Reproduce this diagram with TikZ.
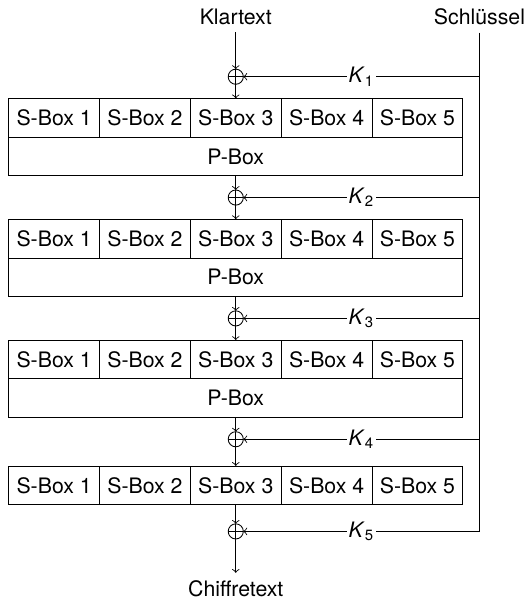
\documentclass[tikz,border=0pt]{standalone}
\usepackage{fontspec}
\setmainfont{TeX Gyre Heros}
\usetikzlibrary{positioning,calc}
\tikzset{
  sbox/.style={draw, minimum width=1.5cm, minimum height=0.64cm, inner sep=0pt, outer sep=0pt},
  pbox/.style={sbox, minimum width=7.5cm},
  % XOR-Knoten
  xor/.style={draw, circle, minimum size=0.25cm, inner sep=0pt, outer sep=0pt,
    path picture={\draw (path picture bounding box.north) -- (path picture bounding box.south)
      (path picture bounding box.west) -- (path picture bounding box.east);}},
  flow/.style={draw, ->},
  klbl/.style={fill=white, inner sep=1pt}
}
\begin{document}
\begin{tikzpicture}
  \useasboundingbox (0,0) rectangle (8.70,-9.91);
  \node (klar) at (3.894,-0.281) {Klartext};
  \node (key) at (7.92,-0.281) {Schlüssel};
  \node[xor] (x1) at (3.894,-1.267) {};
  \draw[flow] (klar) -- (x1);
  % volle Runden: S-Boxen, P-Box, Schluesseladdition
  \foreach \r [count=\n from 2] in {1,2,3} {
    \node[sbox, below=0.233cm of x\r] (s\r3) {S-Box 3};
    \node[sbox, left=0pt of s\r3] (s\r2) {S-Box 2};
    \node[sbox, left=0pt of s\r2] (s\r1) {S-Box 1};
    \node[sbox, right=0pt of s\r3] (s\r4) {S-Box 4};
    \node[sbox, right=0pt of s\r4] (s\r5) {S-Box 5};
    \node[pbox, below=0pt of s\r3] (p\r) {P-Box};
    \node[xor, below=0.233cm of p\r] (x\n) {};
    \draw[flow] (x\r) -- (s\r3);
    \draw[flow] (p\r) -- (x\n);
  }
  % letzte Runde ohne P-Box
  \node[sbox, below=0.316cm of x4] (s43) {S-Box 3};
  \node[sbox, left=0pt of s43] (s42) {S-Box 2};
  \node[sbox, left=0pt of s42] (s41) {S-Box 1};
  \node[sbox, right=0pt of s43] (s44) {S-Box 4};
  \node[sbox, right=0pt of s44] (s45) {S-Box 5};
  \node[xor, below=0.316cm of s43] (x5) {};
  \draw[flow] (x4) -- (s43);
  \draw[flow] (s43) -- (x5);
  \node (chiffre) at (3.894,-9.72) {Chiffretext};
  \draw[flow] (x5) -- (chiffre);
  % Rundenschluessel
  \foreach \i in {1,...,4}
    \draw[flow] (x\i -| key) -- node[klbl] {\textit{K}\textsubscript{\i}} (x\i);
  \draw[flow] (key) |- node[klbl, pos=0.75] {\textit{K}\textsubscript{5}} (x5);
\end{tikzpicture}
\end{document}
